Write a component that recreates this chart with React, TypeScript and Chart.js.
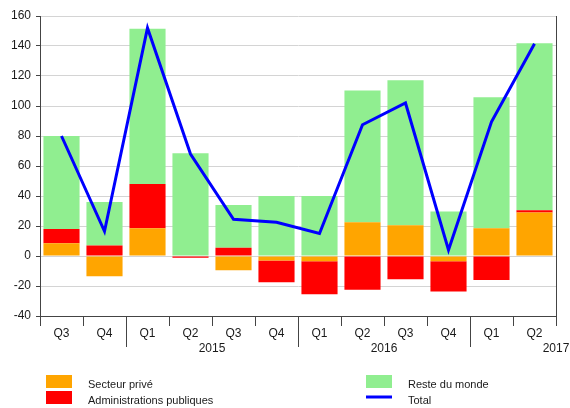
import React, { useEffect, useRef } from "react";
import { Chart, registerables } from "chart.js";

Chart.register(...registerables);

const quarters = ["Q3", "Q4", "Q1", "Q2", "Q3", "Q4", "Q1", "Q2", "Q3", "Q4", "Q1", "Q2"];
const years = ["2015", "2016", "2017"];
const yearPositions = [3.5, 7.5, 11.5];
const yearSeparators = [2, 6, 10];
const secteurPrive = [8.5, -13.5, 18.5, 0, -9.5, -3, -3.5, 22.5, 20.5, -3.5, 18.5, 29];
const administrations = [9.5, 7, 29.5, -1.2, 5.5, -14.5, -22, -22.5, -15.5, -20.2, -16, 1.5];
const resteDuMonde = [62, 29, 103.5, 68.5, 28.5, 40, 40, 87.8, 96.7, 29.6, 87.4, 111.3];
const total = [80, 16.5, 152, 68, 24.5, 22.5, 15, 87.5, 102, 4, 89.5, 141.5];

const FONT = '"Liberation Sans", Arial, sans-serif';
const TEXT = "#1a1a1a";
const AXIS = "#444444";

const decorPlugin = {
  id: "decor",
  afterDraw(chart: any) {
    const ctx = chart.ctx;
    const area = chart.chartArea;
    const x = chart.scales.x;
    ctx.save();
    // right border
    ctx.strokeStyle = AXIS;
    ctx.lineWidth = 1;
    ctx.beginPath();
    ctx.moveTo(Math.round(area.right) + 0.5, area.top);
    ctx.lineTo(Math.round(area.right) + 0.5, area.bottom);
    ctx.stroke();
    // year separators
    const step = (area.right - area.left) / quarters.length;
    yearSeparators.forEach((k) => {
      const px = Math.round(area.left + step * k) + 0.5;
      ctx.beginPath();
      ctx.moveTo(px, area.bottom);
      ctx.lineTo(px, area.bottom + 31);
      ctx.stroke();
    });
    // year labels
    ctx.fillStyle = TEXT;
    ctx.font = `12px ${FONT}`;
    ctx.textAlign = "center";
    ctx.textBaseline = "middle";
    years.forEach((y, i) => {
      ctx.fillText(y, x.getPixelForValue(yearPositions[i]), area.bottom + 32.5);
    });
    // legend
    const items = [
      { label: "Secteur privé", color: "#FFA500", type: "box", x: 46, y: 375 },
      { label: "Administrations publiques", color: "#FF0000", type: "box", x: 46, y: 391 },
      { label: "Reste du monde", color: "#90EE90", type: "box", x: 366, y: 375 },
      { label: "Total", color: "#0000FF", type: "line", x: 366, y: 391 },
    ];
    ctx.font = `11px ${FONT}`;
    ctx.textAlign = "left";
    items.forEach((it) => {
      if (it.type === "box") {
        ctx.fillStyle = it.color;
        ctx.fillRect(it.x, it.y, 26, 13);
      } else {
        ctx.strokeStyle = it.color;
        ctx.lineWidth = 3;
        ctx.beginPath();
        ctx.moveTo(it.x, it.y + 6);
        ctx.lineTo(it.x + 26, it.y + 6);
        ctx.stroke();
      }
      ctx.fillStyle = TEXT;
      ctx.fillText(it.label, it.x + 42, it.y + 9.5);
    });
    ctx.restore();
  },
};

export default function App() {
  const ref = useRef<HTMLCanvasElement | null>(null);
  useEffect(() => {
    if (!ref.current) return;
    const chart = new Chart(ref.current, {
      type: "bar",
      data: {
        labels: quarters,
        datasets: [
          { type: "line", label: "Total", data: total, borderColor: "#0000FF", borderWidth: 3, pointRadius: 0, fill: false, tension: 0, order: 0, stack: "total", borderJoinStyle: "miter" } as any,
          { label: "Secteur privé", data: secteurPrive, backgroundColor: "#FFA500", stack: "s", order: 1 },
          { label: "Administrations publiques", data: administrations, backgroundColor: "#FF0000", stack: "s", order: 1 },
          { label: "Reste du monde", data: resteDuMonde, backgroundColor: "#90EE90", stack: "s", order: 1 },
        ],
      },
      options: {
        responsive: false,
        animation: false,
        layout: { padding: { left: 0, right: 14, top: 16, bottom: 0 } },
        datasets: { bar: { barPercentage: 0.84, categoryPercentage: 1 } },
        plugins: { legend: { display: false }, tooltip: { enabled: false } },
        scales: {
          x: {
            stacked: true,
            offset: true,
            grid: { offset: true, drawOnChartArea: false, drawTicks: true, tickLength: 10, color: AXIS },
            border: { display: true, color: AXIS },
            ticks: { font: { family: FONT, size: 12 }, color: TEXT, padding: 0, maxRotation: 0 },
            afterFit: (s: any) => { s.height = 92; },
          },
          y: {
            stacked: true,
            min: -40,
            max: 160,
            ticks: { stepSize: 20, font: { family: FONT, size: 12 }, color: TEXT, padding: 5 },
            grid: { color: "#d4d4d4", tickColor: AXIS, tickLength: 4 },
            border: { display: true, color: AXIS },
            afterFit: (s: any) => { s.width = 40; },
          },
        },
      },
      plugins: [decorPlugin],
    });
    return () => chart.destroy();
  }, []);
  return (
    <div style={{ position: "absolute", left: 0, top: 0, width: 570, height: 408, background: "#fff" }}>
      <canvas ref={ref} width={570} height={408} />
    </div>
  );
}
